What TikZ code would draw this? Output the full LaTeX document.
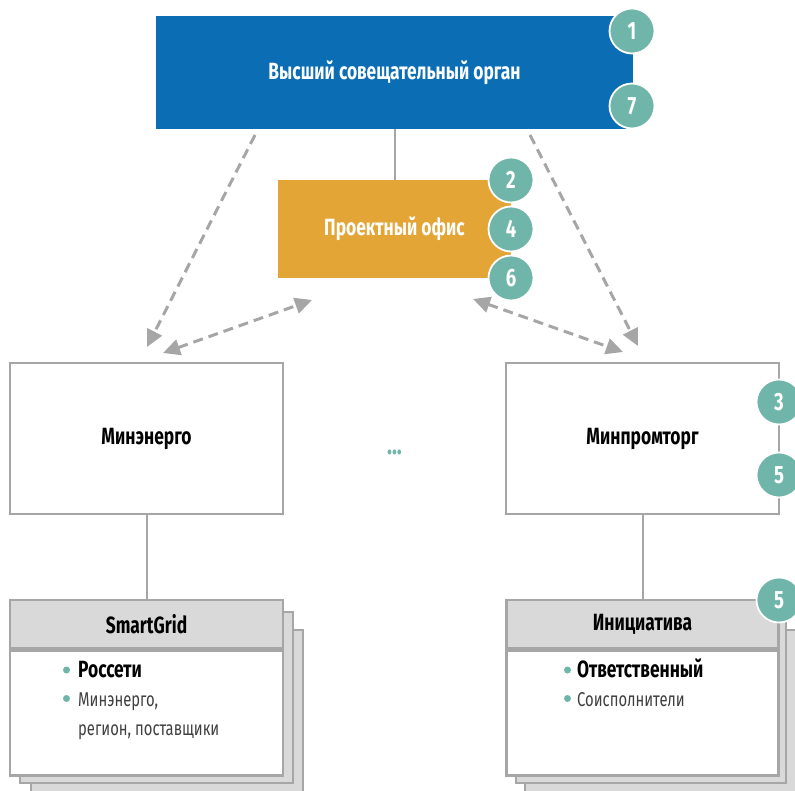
\documentclass[tikz,border=0pt]{standalone}
\usepackage{fontspec}
\setmainfont{Fira Sans}[FakeStretch=0.74]
\usetikzlibrary{arrows.meta}
\definecolor{cblue}{HTML}{0B6EB5}
\definecolor{corange}{HTML}{E2A536}
\definecolor{cteal}{HTML}{6FB5A9}
\definecolor{cline}{HTML}{A6A6A6}
\definecolor{chead}{HTML}{D9D9D9}
\tikzset{
  lbl/.style={font=\fontsize{23.5}{26}\selectfont\bfseries},
  bluebox/.style={fill=cblue, minimum width=477pt, minimum height=113pt, inner sep=0pt, text=white, lbl},
  officebox/.style={fill=corange, minimum width=233pt, minimum height=98pt, inner sep=0pt, text=white, lbl},
  minbox/.style={draw=cline, line width=2.5pt, fill=white, minimum width=273pt, minimum height=151pt, inner sep=0pt, lbl},
  hdrbox/.style={draw=cline, line width=2.5pt, fill=chead, minimum width=273pt, minimum height=48pt, inner sep=0pt, lbl},
  bodybox/.style={draw=cline, line width=2.5pt, fill=white, minimum width=273pt, minimum height=125pt, inner sep=0pt},
  stackbox/.style={draw=cline, line width=2.5pt, fill=chead},
  num/.style={circle, fill=cteal, draw=white, line width=1.8pt, minimum size=45pt, inner sep=0pt, text=white, font=\fontsize{25}{25}\selectfont\bfseries},
  conn/.style={draw=cline, line width=2pt},
  dconn/.style={draw=cline, line width=3pt, dash pattern=on 10pt off 6pt, -{Triangle[length=17pt,width=16pt]}},
  ddconn/.style={draw=cline, line width=3pt, dash pattern=on 10pt off 6pt, {Triangle[length=17pt,width=16pt]}-{Triangle[length=17pt,width=16pt]}},
  bul/.style={circle, fill=cteal, minimum size=7pt, inner sep=0pt},
  btxt/.style={anchor=base west, inner sep=0pt, font=\fontsize{20}{24}\selectfont},
  bbtxt/.style={anchor=base west, inner sep=0pt, font=\fontsize{23.5}{26}\selectfont\bfseries},
}
\begin{document}
\begin{tikzpicture}[x=1pt,y=-1pt]
\useasboundingbox (0,0) rectangle (795,791);
% top
\node[bluebox] (top) at (394.5,72.5) {Высший совещательный орган};
\node[officebox] (office) at (394.5,229) {Проектный офис};
\draw[conn] (top.south) -- (office.north);
\node[num] (n1) at (632,31) {1};
\node[num] (n7) at (632,106) {7};
\node[num] (n2) at (511,180) {2};
\node[num] (n4) at (511,229) {4};
\node[num] (n6) at (511,278) {6};
% ministries
\node[minbox] (me) at (146.5,438.5) {Минэнерго};
\node[minbox] (mp) at (642.5,438.5) {Минпромторг};
\node[num] (n3) at (779,402) {3};
\node[num] (n5a) at (779,475) {5};
\node[text=cteal, font=\fontsize{28}{28}\selectfont\bfseries] (dots) at (394.5,452) {...};
% dashed connectors
\coordinate (a1s) at (255,135);
\coordinate (a1e) at (147,347);
\coordinate (a2s) at (163,353);
\coordinate (a2e) at (312,300);
\coordinate (a3s) at (530,135);
\coordinate (a3e) at (638,346);
\coordinate (a4s) at (473,299);
\coordinate (a4e) at (623,352);
\draw[dconn] (a1s) -- (a1e);
\draw[ddconn] (a2s) -- (a2e);
\draw[dconn] (a3s) -- (a3e);
\draw[ddconn] (a4s) -- (a4e);
% left stack
\draw[stackbox] (31,630) rectangle (303,800);
\draw[stackbox] (20,612) rectangle (293,783);
\node[hdrbox] (sg) at (146.5,624) {SmartGrid};
\node[bodybox, anchor=north] (sgb) at (sg.south) {};
\draw[conn] (me.south) -- (sg.north);
\node[bul] (b1) at (66.5,670) {};
\node[bbtxt] (t1) at (78,677.5) {Россети};
\node[bul] (b2) at (66.5,698.5) {};
\node[btxt, text=black!75] (t2) at (78,706.5) {Минэнерго,};
\node[btxt, text=black!75] (t3) at (78,735.5) {регион, поставщики};
% right stack
\draw[stackbox] (525,630) rectangle (800,800);
\draw[stackbox] (516,612) rectangle (786,783);
\node[hdrbox, minimum width=272pt] (ini) at (642.5,624) {Инициатива};
\node[bodybox, minimum width=272pt, anchor=north] (inib) at (ini.south) {};
\draw[conn] (mp.south) -- (ini.north);
\node[num] (n5b) at (779,600) {5};
\node[bul] (b3) at (567.5,670) {};
\node[bbtxt] (t4) at (577,677.5) {Ответственный};
\node[bul] (b4) at (567.5,698.5) {};
\node[btxt, text=black!75] (t5) at (577,706.5) {Соисполнители};
\end{tikzpicture}
\end{document}
